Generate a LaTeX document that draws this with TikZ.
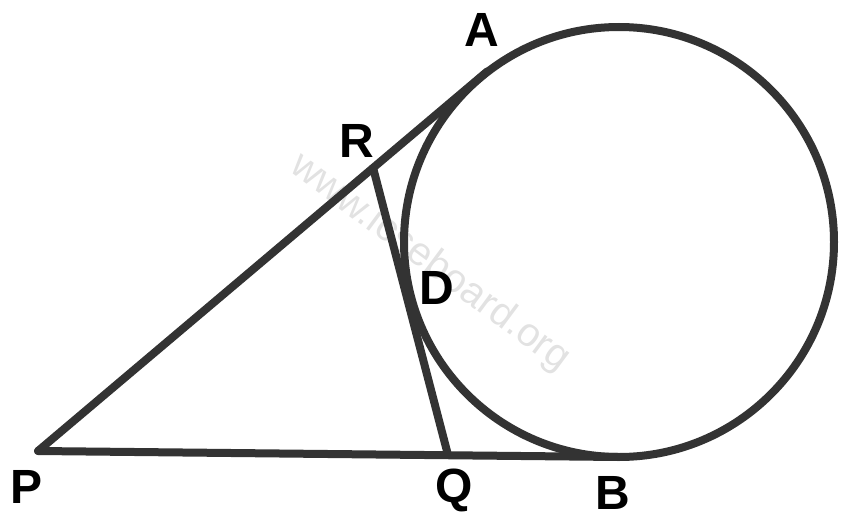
\documentclass[tikz,border=0pt]{standalone}
\usepackage{fontspec}
\setmainfont{Liberation Sans}
\usetikzlibrary{calc}
\definecolor{ink}{HTML}{333333}
\definecolor{wm}{HTML}{E2E2E2}
\tikzset{
  geo/.style={draw=ink, line width=8pt, line cap=round, line join=round},
  lbl/.style={font=\fontsize{48}{48}\selectfont\bfseries, text=black, inner sep=0pt},
  mark/.style={}
}
\begin{document}
\begin{tikzpicture}[x=1pt,y=-1pt]
\useasboundingbox (0,0) rectangle (857,527);
% watermark
\node[text=wm, font=\fontsize{40}{40}\selectfont, rotate=-36.6] (wmk) at (430,263) {www.icseboard.org};
% points
\coordinate (O) at (619,242);
\coordinate (P) at (38,451);
\coordinate (A) at (483,75);
\coordinate (B) at (618,457);
\coordinate (R) at ($(P)!0.753!(A)$);
\coordinate (Q) at (448,455);
% circle
\draw[geo] (O) circle[radius=215];
% lines
\draw[geo] (P) -- ($(P)!1.01!(A)$);
\draw[geo] (P) -- (B);
\draw[geo] (R) -- (Q);
% labels
\node[lbl] (lA) at (482,30) {A};
\node[lbl] (lR) at (357,141) {R};
\node[lbl] (lD) at (437,288) {D};
\node[lbl] (lP) at (27,487) {P};
\node[lbl] (lQ) at (454,490) {Q};
\node[lbl] (lB) at (613,493) {B};
\end{tikzpicture}
\end{document}
